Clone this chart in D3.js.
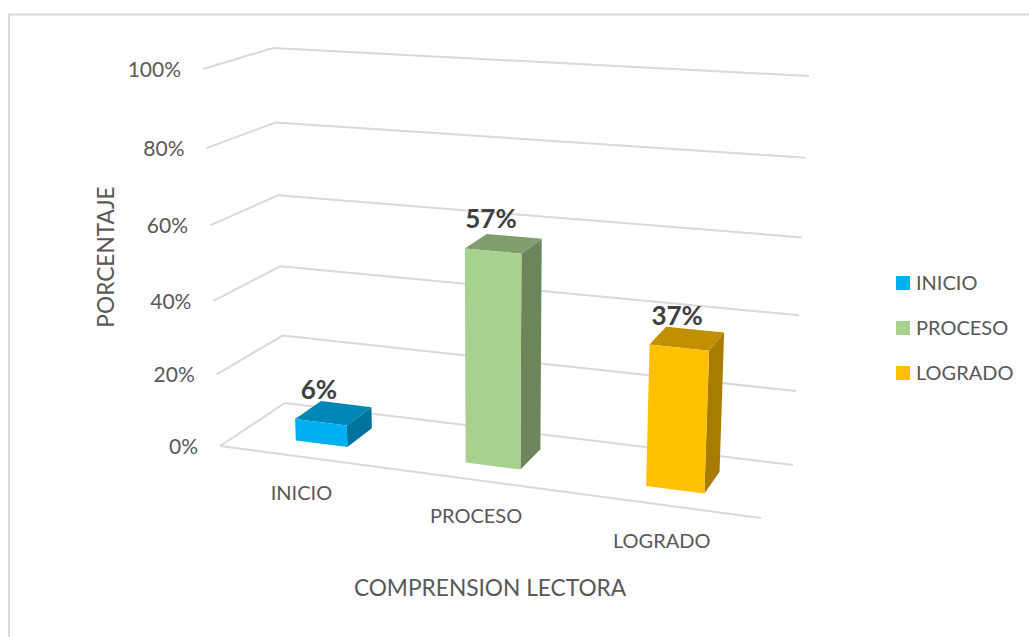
<!DOCTYPE html>
<html>
<head>
<meta charset="utf-8">
<script src="https://cdnjs.cloudflare.com/ajax/libs/d3/7.8.5/d3.min.js"></script>
<style>
  html, body { margin: 0; padding: 0; background: #fff; }
  svg { display: block; }
  text { font-family: Lato, "Open Sans", sans-serif; fill: #595959; }
</style>
</head>
<body>
<div id="chart"></div>
<script>
const categories = ["INICIO", "PROCESO", "LOGRADO"];
const values = [6, 57, 37];
const valueTicks = [0, 20, 40, 60, 80, 100];
const frontColors = ["#00B0F0", "#A9D18E", "#FFC000"];
const topColors = ["#0087B8", "#7F9E6B", "#C09000"];
const sideColors = ["#00729C", "#6C855A", "#A67D00"];

const width = 1029,
      height = 637;

const svg = d3.select("#chart").append("svg")
    .attr("width", width)
    .attr("height", height);

// corners of the 3d box, [bottom, top] for each vertical edge
const box = {
    frontLeft: [[220, 446], [203, 69]],
    backLeft: [[285, 403], [273, 48]],
    backRight: [[793, 465], [809, 76]],
    frontRight: [[761, 518], [779, 105]]
};

// the ticks are not evenly spaced on screen because of the perspective
const rise = d3.scaleLinear()
    .domain(valueTicks)
    .range([0, 0.19, 0.385, 0.585, 0.79, 1]);

const across = d3.scaleBand()
    .domain(categories)
    .range([0, 1])
    .paddingInner(0.69)
    .paddingOuter(0.345);

// foreshortening along the floor, right end is nearer
const skew = 1.096;
const warp = t => t / (t + skew * (1 - t));

const barDepth = [0.3, 0.72];

function project(t, value, z) {
    const f = rise(value),
          u = warp(t);
    const edge = corner => d3.interpolate(corner[0], corner[1])(f);
    const front = d3.interpolate(edge(box.frontLeft), edge(box.frontRight))(u);
    const back = d3.interpolate(edge(box.backLeft), edge(box.backRight))(u);
    return d3.interpolate(front, back)(z);
}

const line = d3.line();

const grid = svg.append("g")
    .attr("fill", "none")
    .attr("stroke", "#D9D9D9")
    .attr("stroke-width", 2);

// chart frame
grid.append("path")
    .attr("d", line([[9, height], [9, 14.5], [width, 14.5]]));

valueTicks.forEach(v => {
    grid.append("path")
        .attr("d", line([project(0, v, 0), project(0, v, 1), project(1, v, 1)]));
});
grid.append("path")
    .attr("d", line([project(0, 0, 0), project(1, 0, 0)]));

svg.append("g")
    .selectAll("text")
    .data(valueTicks)
    .join("text")
    .attr("x", d => project(0, d, 0)[0] - 22)
    .attr("y", d => project(0, d, 0)[1] + 0.5)
    .attr("dy", "0.35em")
    .attr("text-anchor", "end")
    .attr("font-size", 21)
    .text(d => d + "%");

const bars = svg.append("g")
    .selectAll("g")
    .data(categories)
    .join("g");

bars.each(function(name, i) {
    const g = d3.select(this),
          t0 = across(name),
          t1 = t0 + across.bandwidth(),
          v = values[i],
          [z0, z1] = barDepth;

    g.append("path")
        .attr("fill", sideColors[i])
        .attr("d", line([project(t1, 0, z0), project(t1, 0, z1), project(t1, v, z1), project(t1, v, z0)]) + "Z");
    g.append("path")
        .attr("fill", topColors[i])
        .attr("d", line([project(t0, v, z0), project(t0, v, z1), project(t1, v, z1), project(t1, v, z0)]) + "Z");
    g.append("path")
        .attr("fill", frontColors[i])
        .attr("d", line([project(t0, 0, z0), project(t1, 0, z0), project(t1, v, z0), project(t0, v, z0)]) + "Z");

    const top = project((t0 + t1) / 2, v, z0);
    g.append("text")
        .attr("x", top[0] - 2)
        .attr("y", top[1] - 32)
        .attr("dy", "0.35em")
        .attr("text-anchor", "middle")
        .attr("font-size", 26)
        .attr("font-weight", "bold")
        .style("fill", "#404040")
        .text(v + "%");
});

svg.append("g")
    .selectAll("text")
    .data(categories)
    .join("text")
    .attr("x", d => project(across(d) + across.bandwidth() / 2, 0, 0)[0] - 2)
    .attr("y", d => project(across(d) + across.bandwidth() / 2, 0, 0)[1] + 36)
    .attr("dy", "0.35em")
    .attr("text-anchor", "middle")
    .attr("font-size", 20)
    .text(d => d);

svg.append("text")
    .attr("x", 490)
    .attr("y", 588)
    .attr("dy", "0.35em")
    .attr("text-anchor", "middle")
    .attr("font-size", 22.7)
    .text("COMPRENSION LECTORA");

svg.append("text")
    .attr("transform", "translate(106,257) rotate(-90)")
    .attr("dy", "0.35em")
    .attr("text-anchor", "middle")
    .attr("font-size", 22.7)
    .text("PORCENTAJE");

const legendY = d3.scalePoint()
    .domain(categories)
    .range([283, 373]);

const legend = svg.append("g")
    .selectAll("g")
    .data(categories)
    .join("g")
    .attr("transform", d => `translate(896,${legendY(d)})`);

legend.append("rect")
    .attr("y", -7)
    .attr("width", 14)
    .attr("height", 14)
    .attr("fill", (d, i) => frontColors[i]);

legend.append("text")
    .attr("x", 20)
    .attr("dy", "0.35em")
    .attr("font-size", 20)
    .text(d => d);
</script>
</body>
</html>
